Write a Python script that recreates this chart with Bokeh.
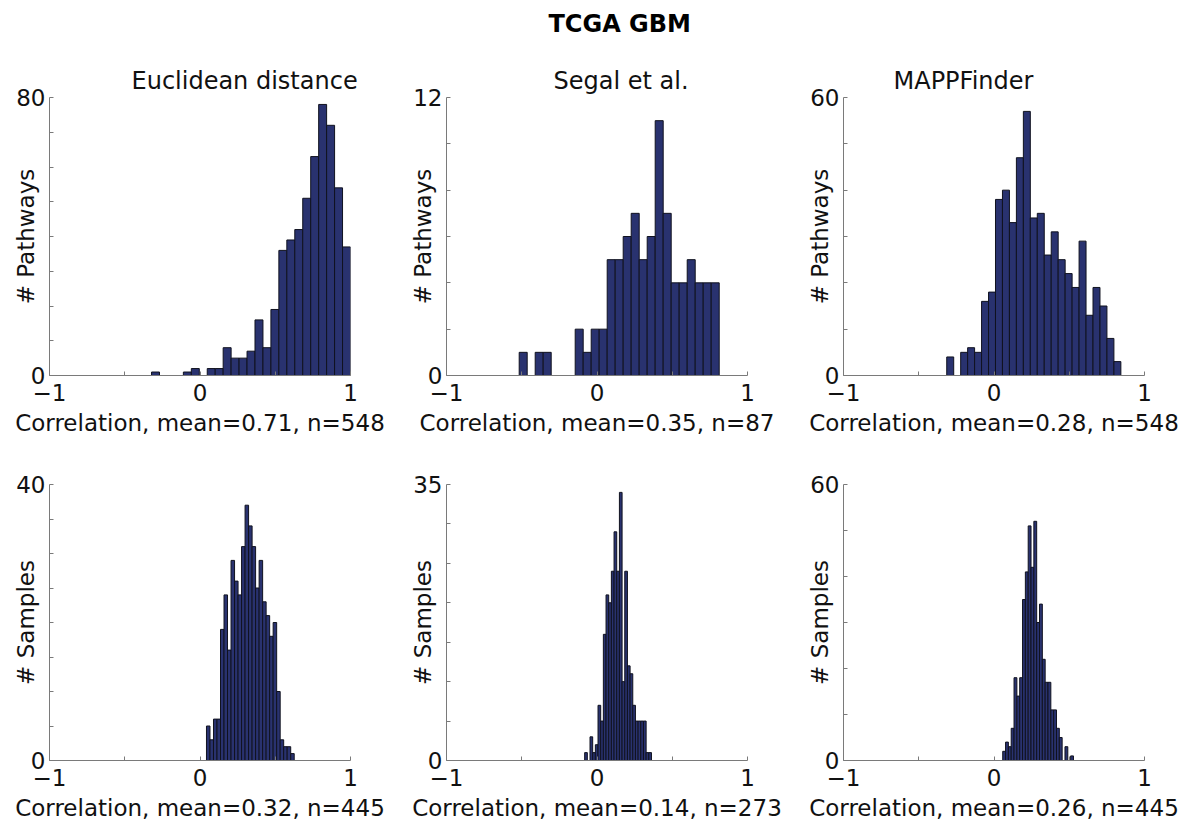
import numpy as np
from bokeh.plotting import figure
from bokeh.layouts import gridplot, column
from bokeh.models import Range1d, FixedTicker, Title
from bokeh.embed import file_html
from bokeh.resources import INLINE

# Histogram counts: 25 equal-width bins spanning [lo, hi]
eucl_pathway_counts = [1, 0, 0, 0, 1, 2, 0, 2, 2, 8, 5, 5, 7, 16, 8, 19, 36, 39, 42, 51, 63, 78, 72, 54, 37]
segal_pathway_counts = [1, 0, 1, 1, 0, 0, 0, 2, 1, 2, 2, 5, 5, 6, 7, 5, 6, 11, 7, 4, 4, 5, 4, 4, 4]
mapp_pathway_counts = [4, 0, 5, 6, 5, 16, 18, 38, 40, 33, 47, 57, 34, 35, 26, 31, 25, 22, 19, 29, 13, 19, 15, 8, 3]
eucl_sample_counts = [5, 3, 6, 6, 19, 24, 16, 29, 26, 24, 31, 37, 34, 31, 25, 29, 23, 21, 18, 20, 10, 3, 2, 2, 1]
segal_sample_counts = [1, 0, 3, 1, 2, 7, 5, 16, 21, 20, 24, 29, 24, 34, 10, 24, 12, 11, 7, 5, 5, 5, 5, 1, 1]
mapp_sample_counts = [2, 4, 3, 7, 18, 14, 18, 35, 41, 51, 42, 52, 30, 34, 22, 17, 17, 11, 11, 7, 5, 0, 3, 0, 1]

# Data range of each histogram (min, max of correlations)
eucl_pathway_range = (-0.322, 1.0)
segal_pathway_range = (-0.517, 0.812)
mapp_pathway_range = (-0.314, 0.843)
eucl_sample_range = (0.043, 0.626)
segal_sample_range = (-0.082, 0.362)
mapp_sample_range = (0.058, 0.528)

method_titles = ["Euclidean distance", "Segal et al.", "MAPPFinder"]
pathway_xlabels = ["Correlation, mean=0.71, n=548", "Correlation, mean=0.35, n=87", "Correlation, mean=0.28, n=548"]
sample_xlabels = ["Correlation, mean=0.32, n=445", "Correlation, mean=0.14, n=273", "Correlation, mean=0.26, n=445"]
pathway_ymax = [80, 12, 60]
pathway_ystep = [10, 2, 10]
sample_ymax = [40, 35, 60]
sample_ystep = [5, 5, 10]

FONT = "DejaVu Sans"
FS = "23px"
TITLE_FS = "24px"
BAR_FILL = "#29326f"
BAR_EDGE = "#10121f"
AXIS_GRAY = "#7a7a7a"
# left indent of each column heading from its frame's left edge, px
TITLE_INDENT = [82, 107, 50]


def histogram_panel(counts, data_range, ymax, ystep, xlabel, ylabel, top_row):
    p = figure(
        width=397, height=410 if top_row else 375,
        x_range=Range1d(-1, 1), y_range=Range1d(0, ymax),
        output_backend="svg", toolbar_location=None,
        title=None,
        min_border_left=49, min_border_right=47,
        min_border_top=57 if top_row else 34,
        min_border_bottom=75 if top_row else 65,
    )
    counts = np.asarray(counts)
    edges = np.linspace(data_range[0], data_range[1], len(counts) + 1)
    keep = counts > 0
    p.quad(left=edges[:-1][keep], right=edges[1:][keep], bottom=0, top=counts[keep],
           fill_color=BAR_FILL, line_color=BAR_EDGE, line_width=1)

    p.xgrid.visible = False
    p.ygrid.visible = False
    p.outline_line_color = None
    p.background_fill_color = "white"
    p.border_fill_color = "white"

    p.xaxis.ticker = FixedTicker(ticks=[-1, 0, 1], minor_ticks=[-0.5, 0.5])
    p.xaxis.major_label_overrides = {-1: "\u22121", 0: "0", 1: "1"}
    p.yaxis.ticker = FixedTicker(ticks=[0, ymax], minor_ticks=list(range(ystep, ymax, ystep)))

    for ax in (p.xaxis[0], p.yaxis[0]):
        ax.axis_line_color = AXIS_GRAY
        ax.major_tick_line_color = AXIS_GRAY
        ax.minor_tick_line_color = AXIS_GRAY
        ax.major_tick_in = 4
        ax.major_tick_out = 0
        ax.minor_tick_in = 4
        ax.minor_tick_out = 0
        ax.major_label_text_font = FONT
        ax.major_label_text_font_size = FS
        ax.major_label_text_color = "#111111"
        ax.axis_label_text_font = FONT
        ax.axis_label_text_font_size = FS
        ax.axis_label_text_font_style = "normal"
        ax.axis_label_text_color = "#111111"

    p.xaxis.axis_label = xlabel
    p.xaxis.major_label_standoff = 8
    p.xaxis.axis_label_standoff = 6
    p.yaxis.axis_label = ylabel
    p.yaxis.major_label_standoff = 4
    p.yaxis.axis_label_standoff = -26
    return p


def add_heading(p, text, indent, standoff, bold=False, size=TITLE_FS):
    p.add_layout(Title(text=text, align="left", offset=indent, text_font=FONT,
                       text_font_size=size, text_font_style="bold" if bold else "normal",
                       text_color="#000000" if bold else "#111111", standoff=standoff), "above")


top = [
    histogram_panel(eucl_pathway_counts, eucl_pathway_range, pathway_ymax[0], pathway_ystep[0],
                    pathway_xlabels[0], "# Pathways", True),
    histogram_panel(segal_pathway_counts, segal_pathway_range, pathway_ymax[1], pathway_ystep[1],
                    pathway_xlabels[1], "# Pathways", True),
    histogram_panel(mapp_pathway_counts, mapp_pathway_range, pathway_ymax[2], pathway_ystep[2],
                    pathway_xlabels[2], "# Pathways", True),
]
bottom = [
    histogram_panel(eucl_sample_counts, eucl_sample_range, sample_ymax[0], sample_ystep[0],
                    sample_xlabels[0], "# Samples", False),
    histogram_panel(segal_sample_counts, segal_sample_range, sample_ymax[1], sample_ystep[1],
                    sample_xlabels[1], "# Samples", False),
    histogram_panel(mapp_sample_counts, mapp_sample_range, sample_ymax[2], sample_ystep[2],
                    sample_xlabels[2], "# Samples", False),
]

# Method names above each column
for p, name, indent in zip(top, method_titles, TITLE_INDENT):
    add_heading(p, name, indent, 6)

# Overall heading strip across the page
heading = figure(width=1191, height=40, output_backend="svg", toolbar_location=None, title=None,
                 x_range=Range1d(0, 1), y_range=Range1d(0, 1),
                 min_border_left=0, min_border_right=0, min_border_top=37, min_border_bottom=0)
heading.xaxis.visible = False
heading.yaxis.visible = False
heading.xgrid.visible = False
heading.ygrid.visible = False
heading.outline_line_color = None
add_heading(heading, "TCGA GBM", 548, 0, bold=True, size="24px")

grid = gridplot([top, bottom], toolbar_location=None)
layout = column(heading, grid, spacing=0)

open("out.html", "w").write(file_html(layout, INLINE))
